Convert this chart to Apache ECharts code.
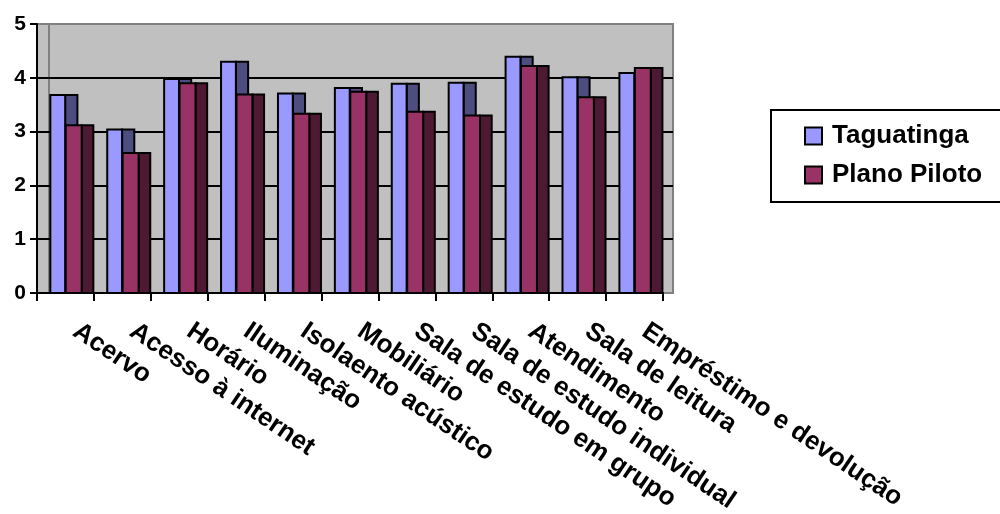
<!DOCTYPE html>
<html>
<head>
<meta charset="utf-8">
<script src="https://cdn.jsdelivr.net/npm/echarts@6/dist/echarts.min.js"></script>
<style>
html,body{margin:0;padding:0;background:#fff;}
#chart{width:1000px;height:514px;}
</style>
</head>
<body>
<div id="chart"></div>
<script>
const categories = ['Acervo','Acesso à internet','Horário','Iluminação','Isolaento acústico','Mobiliário','Sala de estudo em grupo','Sala de estudo individual','Atendimento','Sala de leitura','Empréstimo e devolução'];
const seriesNames = ['Taguatinga','Plano Piloto'];
const taguatinga = [3.68, 3.04, 3.98, 4.30, 3.71, 3.81, 3.89, 3.91, 4.39, 4.01, 4.09];
const planoPiloto = [3.12, 2.60, 3.90, 3.69, 3.33, 3.74, 3.37, 3.30, 4.22, 3.64, 4.18];
const yTicks = [0, 1, 2, 3, 4, 5];

const FONT = '"Liberation Sans", Arial, sans-serif';

function makeRender(frontColor, sideColor, f0, f1, s1) {
  return function (params, api) {
    const idx = api.value(0), v = api.value(1);
    const top = api.coord([idx, v]);
    const base = api.coord([idx, 0]);
    const W = api.size([1, 0])[0];
    const start = top[0] - W / 2;
    const y = top[1], h = base[1] - top[1];
    return {
      type: 'group',
      children: [
        {type: 'rect', shape: {x: start + f1 * W, y: y, width: (s1 - f1) * W, height: h},
         style: {fill: sideColor, stroke: '#000', lineWidth: 2}},
        {type: 'rect', shape: {x: start + f0 * W, y: y, width: (f1 - f0) * W, height: h},
         style: {fill: frontColor, stroke: '#000', lineWidth: 2}}
      ]
    };
  };
}

const chart = echarts.init(document.getElementById('chart'), null, {renderer: 'canvas'});
const option = {
  animation: false,
  backgroundColor: '#fff',
  grid: [
    {left: 37, right: 327, top: 24, bottom: 221, outerBoundsMode: 'none', containLabel: false, show: true, backgroundColor: '#C0C0C0', borderColor: '#808080', borderWidth: 2},
    {left: 49, right: 327, top: 24, bottom: 221, outerBoundsMode: 'none', containLabel: false, show: true, backgroundColor: 'transparent', borderColor: '#808080', borderWidth: 2},
    {left: 37, right: 337, top: 24, bottom: 221, outerBoundsMode: 'none', containLabel: false}
  ],
  xAxis: [
    {gridIndex: 0, type: 'value', show: false, min: 0, max: 1},
    {gridIndex: 1, type: 'value', show: false, min: 0, max: 1},
    {gridIndex: 2, type: 'category', data: categories, boundaryGap: true,
     axisLine: {show: true, lineStyle: {color: '#000', width: 2}},
     axisTick: {show: true, length: 8, lineStyle: {color: '#000', width: 2}},
     axisLabel: {interval: 0, rotate: -34, margin: 29, padding: [0, 0, 0, 12], color: '#000', fontFamily: FONT, fontWeight: 'bold', fontSize: 26},
     splitLine: {show: false}}
  ],
  yAxis: [
    {gridIndex: 0, type: 'value', min: 0, max: 5, interval: 1,
     axisLine: {show: false}, axisTick: {show: false}, axisLabel: {show: false},
     splitLine: {show: true, showMaxLine: false, showMinLine: false, lineStyle: {color: '#000', width: 2}}},
    {gridIndex: 1, type: 'value', show: false, min: 0, max: 5},
    {gridIndex: 2, type: 'value', min: yTicks[0], max: yTicks[yTicks.length - 1], interval: 1,
     axisLine: {show: true, lineStyle: {color: '#000', width: 2}},
     axisTick: {show: true, length: 7, lineStyle: {color: '#000', width: 2}},
     axisLabel: {margin: 11, color: '#000', fontFamily: FONT, fontWeight: 'bold', fontSize: 21},
     splitLine: {show: false}}
  ],
  legend: {
    orient: 'vertical', left: 771, top: 110,
    itemWidth: 17, itemHeight: 17, itemGap: 13,
    padding: [13, 60, 14, 33],
    borderColor: '#000', borderWidth: 2,
    icon: 'rect',
    itemStyle: {borderColor: '#000', borderWidth: 2},
    textStyle: {color: '#000', fontFamily: FONT, fontWeight: 'bold', fontSize: 26, padding: [0, 0, 0, 5]},
    data: seriesNames
  },
  series: [
    {name: seriesNames[0], type: 'custom', xAxisIndex: 2, yAxisIndex: 2,
     itemStyle: {color: '#9999FF'},
     encode: {x: 0, y: 1},
     renderItem: makeRender('#9999FF', '#4D4D80', 0.234, 0.495, 0.71),
     data: taguatinga.map((v, i) => [i, v])},
    {name: seriesNames[1], type: 'custom', xAxisIndex: 2, yAxisIndex: 2,
     itemStyle: {color: '#993366'},
     encode: {x: 0, y: 1},
     renderItem: makeRender('#993366', '#4D1933', 0.505, 0.785, 0.99),
     data: planoPiloto.map((v, i) => [i, v])}
  ]
};
chart.setOption(option);
</script>
</body>
</html>
